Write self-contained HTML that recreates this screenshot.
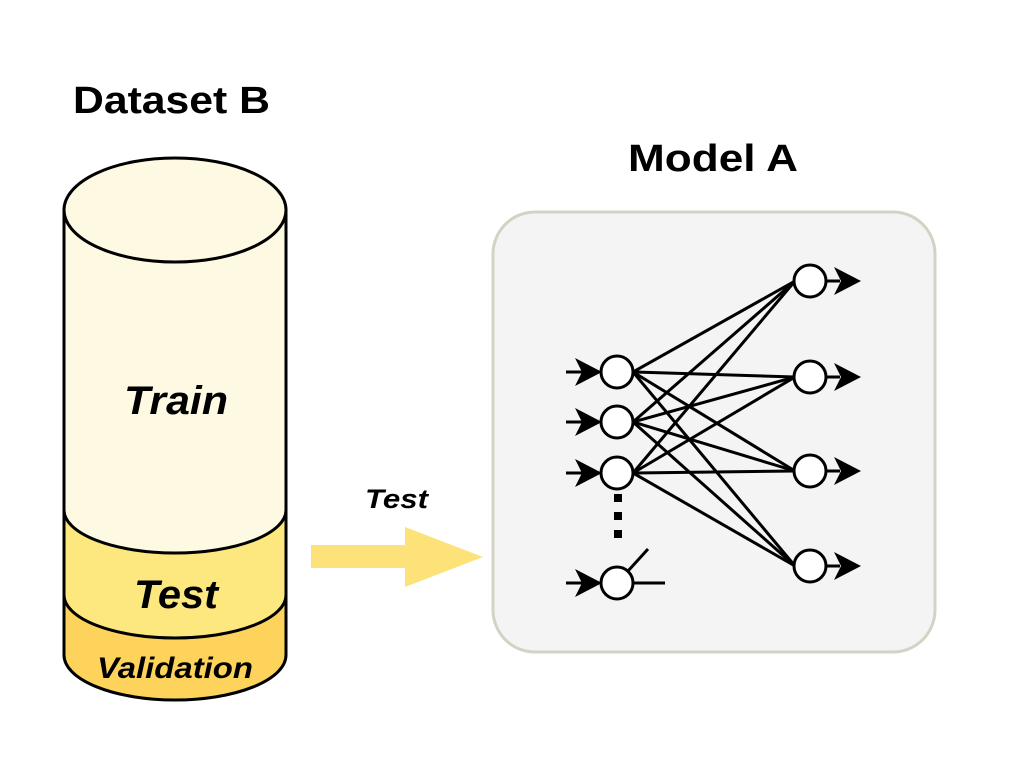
<!DOCTYPE html>
<html><head><meta charset="utf-8"><style>
html,body{margin:0;padding:0;background:#fff;}
svg{display:block;}
text{font-family:"Liberation Sans",sans-serif;font-weight:bold;}
</style></head><body>
<svg width="1026" height="759" viewBox="0 0 1026 759" xmlns="http://www.w3.org/2000/svg">
<text x="73" y="113" font-size="38" textLength="197" lengthAdjust="spacingAndGlyphs">Dataset B</text>
<text x="628" y="171" font-size="38" textLength="170" lengthAdjust="spacingAndGlyphs">Model A</text>
<!-- cylinder -->
<path d="M64 210 L64 655 A111 45 0 0 0 286 655 L286 210 Z" fill="#fdd35c" stroke="#000" stroke-width="3"/>
<path d="M64 210 L64 595 A111 43 0 0 0 286 595 L286 210 Z" fill="#fde77f" stroke="#000" stroke-width="3"/>
<path d="M64 210 L64 510 A111 43 0 0 0 286 510 L286 210 Z" fill="#fdf9e2" stroke="#000" stroke-width="3"/>
<ellipse cx="175" cy="210" rx="111" ry="52" fill="#fdf9e2" stroke="#000" stroke-width="3"/>
<text x="124" y="414" font-size="40" font-style="italic" textLength="104" lengthAdjust="spacingAndGlyphs">Train</text>
<text x="134" y="608" font-size="40" font-style="italic" textLength="84" lengthAdjust="spacingAndGlyphs">Test</text>
<text x="97" y="678" font-size="30" font-style="italic" textLength="156" lengthAdjust="spacingAndGlyphs">Validation</text>
<!-- arrow -->
<polygon points="311,545 405,545 405,527 483,557 405,587 405,568 311,568" fill="#fde27a"/>
<text x="365" y="508" font-size="27" font-style="italic" font-weight="normal" textLength="63" lengthAdjust="spacingAndGlyphs">Test</text>
<!-- box -->
<rect x="493" y="212" width="442" height="440" rx="42" fill="#f4f4f4" stroke="#d3d3c5" stroke-width="3"/>
<g stroke="#000" stroke-width="3" fill="none">
<line x1="633" y1="372" x2="795" y2="281"/><line x1="633" y1="372" x2="795" y2="377"/><line x1="633" y1="372" x2="795" y2="471"/><line x1="633" y1="372" x2="795" y2="566"/>
<line x1="633" y1="422" x2="795" y2="281"/><line x1="633" y1="422" x2="795" y2="377"/><line x1="633" y1="422" x2="795" y2="471"/><line x1="633" y1="422" x2="795" y2="566"/>
<line x1="633" y1="473" x2="795" y2="281"/><line x1="633" y1="473" x2="795" y2="377"/><line x1="633" y1="473" x2="795" y2="471"/><line x1="633" y1="473" x2="795" y2="566"/>
<line x1="628" y1="571" x2="648" y2="549"/><line x1="633" y1="583" x2="665" y2="583"/>
<line x1="566" y1="372" x2="590" y2="372"/><line x1="566" y1="422" x2="590" y2="422"/><line x1="566" y1="473" x2="590" y2="473"/><line x1="566" y1="583" x2="590" y2="583"/>
<line x1="826" y1="281" x2="840" y2="281"/><line x1="826" y1="377" x2="840" y2="377"/><line x1="826" y1="471" x2="840" y2="471"/><line x1="826" y1="566" x2="840" y2="566"/>
</g>
<g fill="#000">
<polygon points="575,358 602,372 575,386 582,372"/><polygon points="575,408 602,422 575,436 582,422"/><polygon points="575,459 602,473 575,487 582,473"/><polygon points="575,569 602,583 575,597 582,583"/>
<polygon points="834,267 861,281 834,295 841,281"/><polygon points="834,363 861,377 834,391 841,377"/><polygon points="834,457 861,471 834,485 841,471"/><polygon points="834,552 861,566 834,580 841,566"/>
<rect x="614" y="494" width="8" height="8"/><rect x="614" y="512" width="8" height="8"/><rect x="614" y="530" width="8" height="8"/>
</g>
<g fill="#fff" stroke="#000" stroke-width="3">
<circle cx="617" cy="372" r="16"/><circle cx="617" cy="422" r="16"/><circle cx="617" cy="473" r="16"/><circle cx="617" cy="583" r="16"/>
<circle cx="810" cy="281" r="16"/><circle cx="810" cy="377" r="16"/><circle cx="810" cy="471" r="16"/><circle cx="810" cy="566" r="16"/>
</g>
</svg>
</body></html>
